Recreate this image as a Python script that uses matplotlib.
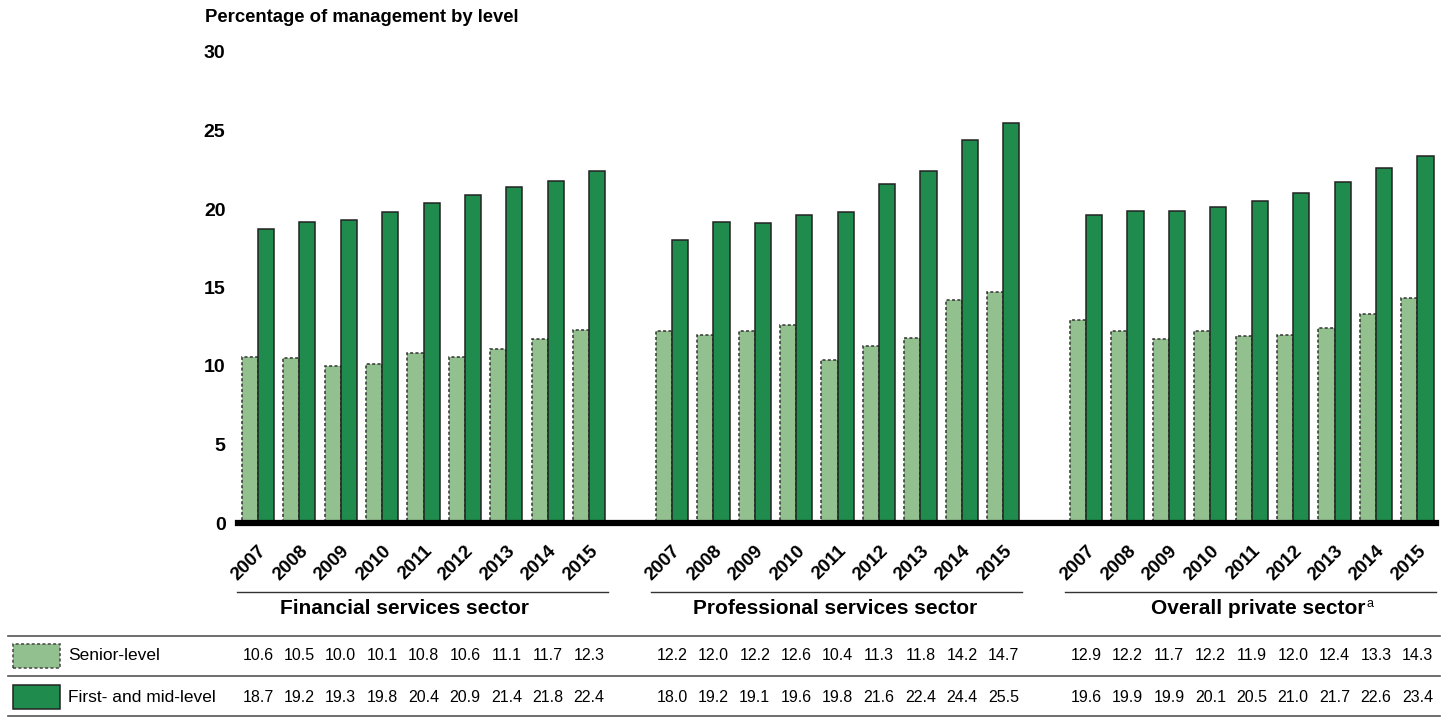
import matplotlib
matplotlib.use("Agg")
import matplotlib.pyplot as plt
from matplotlib.patches import Rectangle
import numpy as np

plt.rcParams['font.family'] = ['Liberation Sans', 'DejaVu Sans']

years = ['2007', '2008', '2009', '2010', '2011', '2012', '2013', '2014', '2015']
sectors = ['Financial services sector', 'Professional services sector', 'Overall private sector']
series_names = ['Senior-level', 'First- and mid-level']

senior_financial = [10.6, 10.5, 10.0, 10.1, 10.8, 10.6, 11.1, 11.7, 12.3]
senior_professional = [12.2, 12.0, 12.2, 12.6, 10.4, 11.3, 11.8, 14.2, 14.7]
senior_overall = [12.9, 12.2, 11.7, 12.2, 11.9, 12.0, 12.4, 13.3, 14.3]

first_financial = [18.7, 19.2, 19.3, 19.8, 20.4, 20.9, 21.4, 21.8, 22.4]
first_professional = [18.0, 19.2, 19.1, 19.6, 19.8, 21.6, 22.4, 24.4, 25.5]
first_overall = [19.6, 19.9, 19.9, 20.1, 20.5, 21.0, 21.7, 22.6, 23.4]

senior = [senior_financial, senior_professional, senior_overall]
first = [first_financial, first_professional, first_overall]

light = '#93c08f'
dark = '#1f8b4c'

W, H = 1450, 719
fig = plt.figure(figsize=(W / 100, H / 100), dpi=100)

# axes placed by pixel: left 238, right 1436, y=0 at 523, y=30 at 52
x0, x1 = 238, 1436
y_bot, y_top = 523, 52
ax = fig.add_axes([x0 / W, 1 - y_bot / H, (x1 - x0) / W, (y_bot - y_top) / H])

bw = 0.39
xmin, xmax = -0.48, 28.45
for g in range(3):
    xs = np.arange(9) + g * 10
    ax.bar(xs - bw / 2, senior[g], bw, color=light, edgecolor='#333333',
           linestyle=(0, (2, 1.5)), linewidth=1.1, zorder=2)
    ax.bar(xs + bw / 2, first[g], bw, color=dark, edgecolor='#222222',
           linewidth=1.1, zorder=2)

ax.set_xlim(xmin, xmax)
ax.set_ylim(0, 30)
ax.set_yticks([0, 5, 10, 15, 20, 25, 30])
ax.set_yticklabels(['0', '5', '10', '15', '20', '25', '30'], fontsize=14, fontweight='bold')
ax.tick_params(axis='y', length=0, pad=9)
for s in ['top', 'right', 'left']:
    ax.spines[s].set_visible(False)
ax.spines['bottom'].set_linewidth(4.5)
ax.spines['bottom'].set_color('black')
ax.spines['bottom'].set_zorder(3)

all_x = np.concatenate([np.arange(9) + g * 10 for g in range(3)])
ax.set_xticks(all_x)
ax.set_xticklabels(years * 3, rotation=45, ha='right', rotation_mode='anchor',
                   fontsize=13.5, fontweight='bold')
ax.tick_params(axis='x', length=0, pad=14)

fig.text(205 / W, 1 - 17 / H, 'Percentage of management by level', fontsize=13.3,
         fontweight='bold', va='center', ha='left')

trans = ax.get_xaxis_transform()
def ypix(p):
    # pixel y -> axes fraction
    return (y_bot - p) / (y_bot - y_top)

# group underlines and labels
label_shift = [-0.45, -0.05, 0.15]
for g in range(3):
    xs = np.arange(9) + g * 10
    ax.plot([xs[0] - 0.5, xs[-1] + 0.45], [ypix(592), ypix(592)], color='#333333',
            linewidth=1, transform=trans, clip_on=False)
    cx = (xs[0] + xs[-1]) / 2 + label_shift[g]
    ax.text(cx, ypix(609), sectors[g], transform=trans, ha='center', va='center',
            fontsize=15, fontweight='bold', clip_on=False)
# superscript note marker on the last label
ax.text(26.78, ypix(604), 'a', transform=trans, ha='left', va='center',
        fontsize=9, clip_on=False)

# table rows
for p in [636, 676, 716]:
    fig.add_artist(plt.Line2D([8 / W, 1440 / W], [1 - p / H, 1 - p / H], color='#555555', linewidth=1.2))

row_y = [656, 697]
for r, (name, vals) in enumerate(zip(series_names, [senior, first])):
    py = row_y[r]
    if r == 0:
        rect = Rectangle((13 / W, 1 - (py + 12) / H), 47 / W, 24 / H, transform=fig.transFigure,
                         facecolor=light, edgecolor='#444444', linestyle=(0, (2, 1.5)), linewidth=1.1)
    else:
        rect = Rectangle((13 / W, 1 - (py + 12) / H), 47 / W, 24 / H, transform=fig.transFigure,
                         facecolor=dark, edgecolor='#222222', linewidth=1.1)
    fig.add_artist(rect)
    fig.text(68 / W, 1 - py / H, name, fontsize=12.5, va='center', ha='left')
    for g in range(3):
        for i, v in enumerate(vals[g]):
            ax.text(g * 10 + i, ypix(py), f'{v:.1f}', transform=trans, ha='center',
                    va='center', fontsize=11.5, clip_on=False)

fig.savefig('out.png', dpi=100)
